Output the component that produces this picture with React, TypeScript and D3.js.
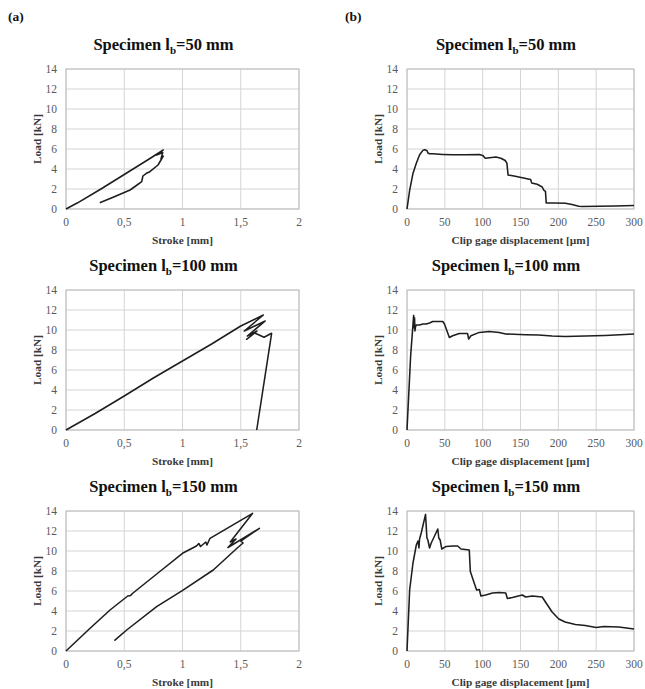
import React from "react";
import * as d3 from "d3";

// ---- data ----
const loadTicks = [0, 2, 4, 6, 8, 10, 12, 14];
const strokeTicks = [0, 0.5, 1, 1.5, 2];
const clipTicks = [0, 50, 100, 150, 200, 250, 300];
const specimenLengths = ["50", "100", "150"];

const stroke50: [number, number][] = [
  [0, 0], [0.1, 0.62], [0.3, 2.0], [0.5, 3.45], [0.7, 4.9], [0.835, 5.9],
  [0.778, 5.4], [0.83, 5.65], [0.815, 5.0], [0.835, 5.3], [0.79, 4.4],
  [0.72, 3.73], [0.69, 3.57], [0.66, 3.3], [0.65, 2.73], [0.61, 2.4],
  [0.55, 1.9], [0.49, 1.6], [0.42, 1.25], [0.29, 0.63],
];
const stroke100: [number, number][] = [
  [0, 0], [0.25, 1.65], [0.5, 3.4], [0.75, 5.2], [1.0, 6.9], [1.25, 8.6],
  [1.5, 10.4], [1.694, 11.5], [1.53, 9.9], [1.71, 10.9], [1.556, 9.4],
  [1.64, 9.9], [1.55, 9.07], [1.62, 9.7], [1.7, 9.27], [1.765, 9.67], [1.637, 0],
];
const stroke150: [number, number][] = [
  [0, 0], [0.2, 2.2], [0.378, 4.1], [0.53, 5.5], [0.555, 5.55], [0.57, 5.75],
  [0.8, 7.9], [1.0, 9.77], [1.12, 10.5], [1.14, 10.75], [1.155, 10.45],
  [1.2, 10.9], [1.21, 10.6], [1.236, 11.27], [1.602, 13.77], [1.41, 10.9],
  [1.46, 11.2], [1.39, 10.35], [1.44, 10.7], [1.66, 12.27], [1.5, 11.0],
  [1.52, 10.8], [1.47, 10.3], [1.264, 8.1], [0.998, 6.03], [0.778, 4.43],
  [0.521, 2.1], [0.415, 1.03],
];
const clip50: [number, number][] = [
  [0, 0], [3.5, 1.86], [7.9, 3.56], [12.3, 4.58], [16.7, 5.42], [21, 5.86],
  [23.2, 5.93], [26.3, 5.86], [27.6, 5.6], [29.8, 5.52], [34.2, 5.52],
  [47.4, 5.46], [60.5, 5.42], [78, 5.42], [95.6, 5.46], [100, 5.36],
  [103.5, 5.08], [117.5, 5.19], [124, 5.08], [129.8, 4.85], [132, 4.58],
  [133.6, 3.39], [141.5, 3.29], [157, 3.05], [163.4, 2.95], [164.7, 2.61],
  [172, 2.47], [178.7, 2.2], [181, 1.86], [183, 1.76], [184, 0.61],
  [196, 0.61], [209.4, 0.58], [218, 0.44], [227, 0.27], [231.6, 0.24],
  [253.5, 0.27], [275, 0.3], [300, 0.34],
];
const clip100: [number, number][] = [
  [0, 0], [4.8, 7.4], [8.8, 11.46], [9.5, 10.2], [10, 11.2], [10.5, 9.9],
  [11.5, 10.4], [12.3, 10.5], [16.6, 10.5], [21, 10.6], [25.4, 10.6],
  [29.8, 10.7], [34, 10.85], [38.5, 10.85], [47.3, 10.85], [49.5, 10.6],
  [56, 9.25], [60.4, 9.42], [69, 9.66], [80, 9.66], [81.5, 9.1], [84.5, 9.42],
  [95.5, 9.76], [108.6, 9.86], [121.8, 9.76], [130.5, 9.6], [156.8, 9.53],
  [174, 9.5], [191.8, 9.4], [209, 9.36], [235.7, 9.4], [262, 9.46],
  [288, 9.56], [300, 9.6],
];
const clip150: [number, number][] = [
  [0, 0], [3.5, 6.1], [7.9, 8.8], [12.3, 10.6], [14.5, 11], [15.8, 10.3],
  [16.6, 11.2], [18.8, 11.8], [24.5, 13.66], [26.3, 11.3], [27.6, 11.1],
  [29.8, 10.3], [32, 10.8], [36.4, 11.5], [40.7, 12.2], [42, 11.3],
  [43.8, 11.1], [46, 10.2], [51.7, 10.46], [60.5, 10.5], [67, 10.5],
  [71.4, 10.2], [82.3, 10.1], [83.7, 7.94], [86.7, 7.27], [89, 6.76],
  [92, 6.1], [95.6, 6.15], [97.7, 5.5], [104, 5.6], [113, 5.8], [121.8, 5.85],
  [130.5, 5.8], [132.7, 5.25], [139.3, 5.35], [152.4, 5.6], [156.8, 5.4],
  [165.6, 5.5], [178.7, 5.4], [183, 4.9], [191.8, 3.9], [200.6, 3.2],
  [209, 2.9], [222.5, 2.65], [235.6, 2.55], [250, 2.35], [260, 2.45],
  [280, 2.4], [300, 2.2],
];

const strokeSeries = [stroke50, stroke100, stroke150];
const clipSeries = [clip50, clip100, clip150];

const FONT = "'Liberation Serif', 'Times New Roman', serif";

type PanelProps = {
  data: [number, number][];
  xMax: number;
  xTicks: number[];
  xLabel: string;
  lb: string;
  left: number;
  right: number;
  top: number;
  titleX: number;
};

const fmt = (v: number) => String(v).replace(".", ",");

function Panel({ data, xMax, xTicks, xLabel, lb, left, right, top, titleX }: PanelProps) {
  const bottom = top + 140;
  const x = d3.scaleLinear().domain([0, xMax]).range([left, right]);
  const y = d3.scaleLinear().domain([0, 14]).range([bottom, top]);
  const line = d3
    .line<[number, number]>()
    .x((d) => x(d[0]))
    .y((d) => y(d[1]));
  const cy = (top + bottom) / 2;
  return (
    <g fontFamily={FONT}>
      <text x={titleX} y={top - 19.5} textAnchor="middle" fontWeight="bold" fontSize={16.5} fill="#111">
        Specimen l<tspan dy={4} fontSize={11}>b</tspan>
        <tspan dy={-4}>={lb} mm</tspan>
      </text>
      {loadTicks.map((t) => (
        <line key={"h" + t} x1={left} x2={right} y1={y(t)} y2={y(t)} stroke="#d4d4d4" strokeWidth={1} />
      ))}
      {xTicks.map((t) => (
        <line key={"v" + t} x1={x(t)} x2={x(t)} y1={top} y2={bottom} stroke="#d4d4d4" strokeWidth={1} />
      ))}
      <rect x={left} y={top} width={right - left} height={bottom - top} fill="none" stroke="#bdbdbd" strokeWidth={1} />
      {loadTicks.map((t) => (
        <text key={"yl" + t} x={left - 9} y={y(t)} dy="0.35em" textAnchor="end" fontSize={11.5} fill="#595959">
          {t}
        </text>
      ))}
      {xTicks.map((t) => (
        <text key={"xl" + t} x={x(t)} y={bottom + 17} textAnchor="middle" fontSize={11.5} fill="#595959">
          {fmt(t)}
        </text>
      ))}
      <text x={(left + right) / 2} y={bottom + 34.5} textAnchor="middle" fontWeight="bold" fontSize={11.3} fill="#3a3a3a">
        {xLabel}
      </text>
      <text
        transform={`translate(${left - 25},${cy}) rotate(-90)`}
        textAnchor="middle"
        fontWeight="bold"
        fontSize={11.3}
        fill="#3a3a3a"
      >
        Load [kN]
      </text>
      <path d={line(data) || ""} fill="none" stroke="#1e1e1e" strokeWidth={1.55} strokeLinejoin="round" />
    </g>
  );
}

export default function App() {
  const tops = [69, 290, 511];
  return (
    <svg
      width={645}
      height={689}
      style={{ position: "absolute", left: 0, top: 0, background: "#fff" }}
    >
      <rect width={645} height={689} fill="#fff" />
      <text x={8} y={21} fontFamily={FONT} fontWeight="bold" fontSize={13.5} fill="#111">(a)</text>
      <text x={345} y={21} fontFamily={FONT} fontWeight="bold" fontSize={13.5} fill="#111">(b)</text>
      {specimenLengths.map((lb, i) => (
        <g key={lb}>
          <Panel
            data={strokeSeries[i]}
            xMax={2}
            xTicks={strokeTicks}
            xLabel="Stroke [mm]"
            lb={lb}
            left={66}
            right={299}
            top={tops[i]}
            titleX={163.5}
          />
          <Panel
            data={clipSeries[i]}
            xMax={300}
            xTicks={clipTicks}
            xLabel="Clip gage displacement [µm]"
            lb={lb}
            left={407}
            right={634}
            top={tops[i]}
            titleX={506}
          />
        </g>
      ))}
    </svg>
  );
}
